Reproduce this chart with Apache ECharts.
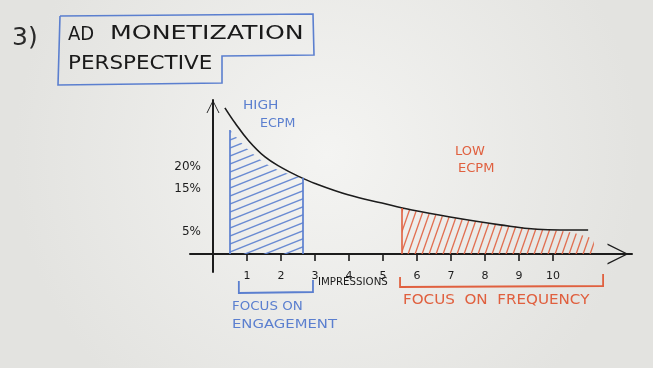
<!DOCTYPE html>
<html>
<head>
<meta charset="utf-8">
<script src="https://cdn.jsdelivr.net/npm/echarts@6/dist/echarts.min.js"></script>
<style>
html,body{margin:0;padding:0;background:#eeeeeb;}
#chart{width:653px;height:368px;}
</style>
</head>
<body>
<div id="chart"></div>
<script>
// ---- data ----
const xTicks = [1, 2, 3, 4, 5, 6, 7, 8, 9, 10];
const yTicks = [5, 15, 20];
const curveX = [0.35, 0.65, 1.03, 1.53, 2.03, 2.50, 3.00, 3.97, 4.97, 5.85, 6.97, 8.44, 9.53, 11.03];
const curveY = [33.6, 30.1, 26.2, 22.3, 19.8, 17.9, 16.2, 13.6, 11.7, 10.1, 8.5, 6.7, 5.7, 5.5];
const highX = [0.5, 1.03, 1.53, 2.03, 2.65];
const highY = [28.5, 24.0, 20.9, 18.9, 17.5];
const lowX = [5.56, 6.5, 7.5, 8.5, 9.5, 10.5, 11.2];
const lowY = [10.6, 9.0, 7.8, 6.7, 5.8, 5.0, 3.5];
const engageRange = [0.76, 2.94];
const freqRange = [5.5, 11.47];

const BLUE = '#5b7fcf';
const RED = '#e0603f';
const INK = '#1c1c1c';
const FONT = "'DejaVu Sans',sans-serif";

function hatch(w, h, color, lw) {
  const c = document.createElement('canvas');
  c.width = w; c.height = h;
  const g = c.getContext('2d');
  g.strokeStyle = color; g.lineWidth = lw;
  for (let dx = -1; dx <= 1; dx++) {
    for (let dy = -1; dy <= 1; dy++) {
      g.beginPath();
      g.moveTo(0 + dx * w, h + dy * h);
      g.lineTo(w + dx * w, 0 + dy * h);
      g.stroke();
    }
  }
  return c;
}
const bluePat = hatch(20, 8, 'rgba(91,127,207,0.9)', 1.4);
const redPat = hatch(7, 20, 'rgba(224,96,63,0.9)', 1.3);

const zip = (a, b) => a.map((v, i) => [v, b[i]]);
const chevron = 'path://M0,20 L10,0 L20,20 L18.6,20 L10,2.6 L1.4,20 Z';

const chart = echarts.init(document.getElementById('chart'));
const option = {
  backgroundColor: {
    type: 'radial', x: 0.5, y: 0.42, r: 0.85,
    colorStops: [{offset: 0, color: '#f4f4f2'}, {offset: 1, color: '#e3e3e0'}]
  },
  animation: false,
  grid: {left: 190, right: 21, top: 100, bottom: 96, containLabel: false},
  xAxis: {
    type: 'value', min: -0.676, max: 12.32,
    splitLine: {show: false},
    axisLine: {
      show: true, onZero: true,
      lineStyle: {color: INK, width: 2},
      symbol: ['none', chevron], symbolSize: [21, 28], symbolOffset: [0, -14]
    },
    axisTick: {show: true, customValues: xTicks, length: 7, lineStyle: {color: INK, width: 1.6}},
    axisLabel: {customValues: xTicks, color: INK, fontSize: 11, fontFamily: FONT, margin: -1}
  },
  yAxis: {
    type: 'value', min: -4.14, max: 35.4,
    splitLine: {show: false},
    axisLine: {
      show: true, onZero: true,
      lineStyle: {color: INK, width: 2},
      symbol: ['none', chevron], symbolSize: [15, 13], symbolOffset: [0, -6.5]
    },
    axisTick: {show: false},
    axisLabel: {customValues: yTicks, formatter: '{value}%', color: INK, fontSize: 12, fontFamily: FONT, margin: -11}
  },
  series: [
    {
      type: 'line', data: zip(highX, highY), smooth: 0.3, symbol: 'none',
      lineStyle: {width: 0}, areaStyle: {color: {image: bluePat, repeat: 'repeat'}, opacity: 1},
      markLine: {
        silent: true, symbol: 'none', label: {show: false},
        lineStyle: {color: BLUE, width: 1.7, type: 'solid'},
        data: [
          [{coord: [highX[0], 0]}, {coord: [highX[0], highY[0]]}],
          [{coord: [highX[highX.length - 1], 0]}, {coord: [highX[highX.length - 1], highY[highY.length - 1]]}]
        ]
      }
    },
    {
      type: 'line', data: zip(lowX, lowY), smooth: 0.3, symbol: 'none',
      lineStyle: {width: 0}, areaStyle: {color: {image: redPat, repeat: 'repeat'}, opacity: 1},
      markLine: {
        silent: true, symbol: 'none', label: {show: false},
        lineStyle: {color: RED, width: 1.6, type: 'solid'},
        data: [
          [{coord: [lowX[0], 0]}, {coord: [lowX[0], lowY[0]]}]
        ]
      }
    },
    {
      type: 'line', data: zip(curveX, curveY), smooth: 0.4, symbol: 'none',
      lineStyle: {color: INK, width: 1.6}
    }
  ]
};
chart.setOption(option);

const px = v => chart.convertToPixel({xAxisIndex: 0}, v);
const e0 = px(engageRange[0]), e1 = px(engageRange[1]);
const f0 = px(freqRange[0]), f1 = px(freqRange[1]);

function txt(x, y, text, size, color, sx) {
  return {type: 'text', x: x, y: y, scaleX: sx || 1, silent: true,
    style: {text: text, fontSize: size, fontFamily: FONT, fill: color, textVerticalAlign: 'middle'}};
}

chart.setOption({
  graphic: [
    txt(12, 38, '3)', 25, '#2a2a2a'),
    {type: 'polyline', silent: true,
      shape: {points: [[60, 16], [313, 14], [314, 55], [222, 56], [222, 83], [58, 85], [60, 16]]},
      style: {stroke: BLUE, lineWidth: 1.6, fill: null}},
    txt(68, 35, 'AD', 19, '#1a1a1a', 0.95),
    txt(110, 34, 'MONETIZATION', 19, '#1a1a1a', 1.33),
    txt(68, 64, 'PERSPECTIVE', 19, '#1a1a1a', 1.13),
    txt(243, 106, 'HIGH', 13, BLUE, 1.06),
    txt(260, 124, 'ECPM', 13, BLUE, 0.97),
    txt(455, 152, 'LOW', 13, RED, 1.0),
    txt(458, 169, 'ECPM', 13, RED, 1.0),
    txt(318, 282, 'IMPRESSIONS', 11, INK, 0.93),
    txt(232, 307, 'FOCUS ON', 13, BLUE, 1.03),
    txt(232, 325, 'ENGAGEMENT', 13, BLUE, 1.14),
    txt(403, 300, 'FOCUS  ON  FREQUENCY', 14, RED, 1.08),
    {type: 'polyline', silent: true,
      shape: {points: [[e0, 281], [e0, 293], [e1, 292], [e1, 280]]},
      style: {stroke: BLUE, lineWidth: 1.8, fill: null}},
    {type: 'polyline', silent: true,
      shape: {points: [[f0, 277], [f0, 287], [f1, 286], [f1, 274]]},
      style: {stroke: RED, lineWidth: 1.8, fill: null}}
  ]
});
</script>
</body>
</html>
